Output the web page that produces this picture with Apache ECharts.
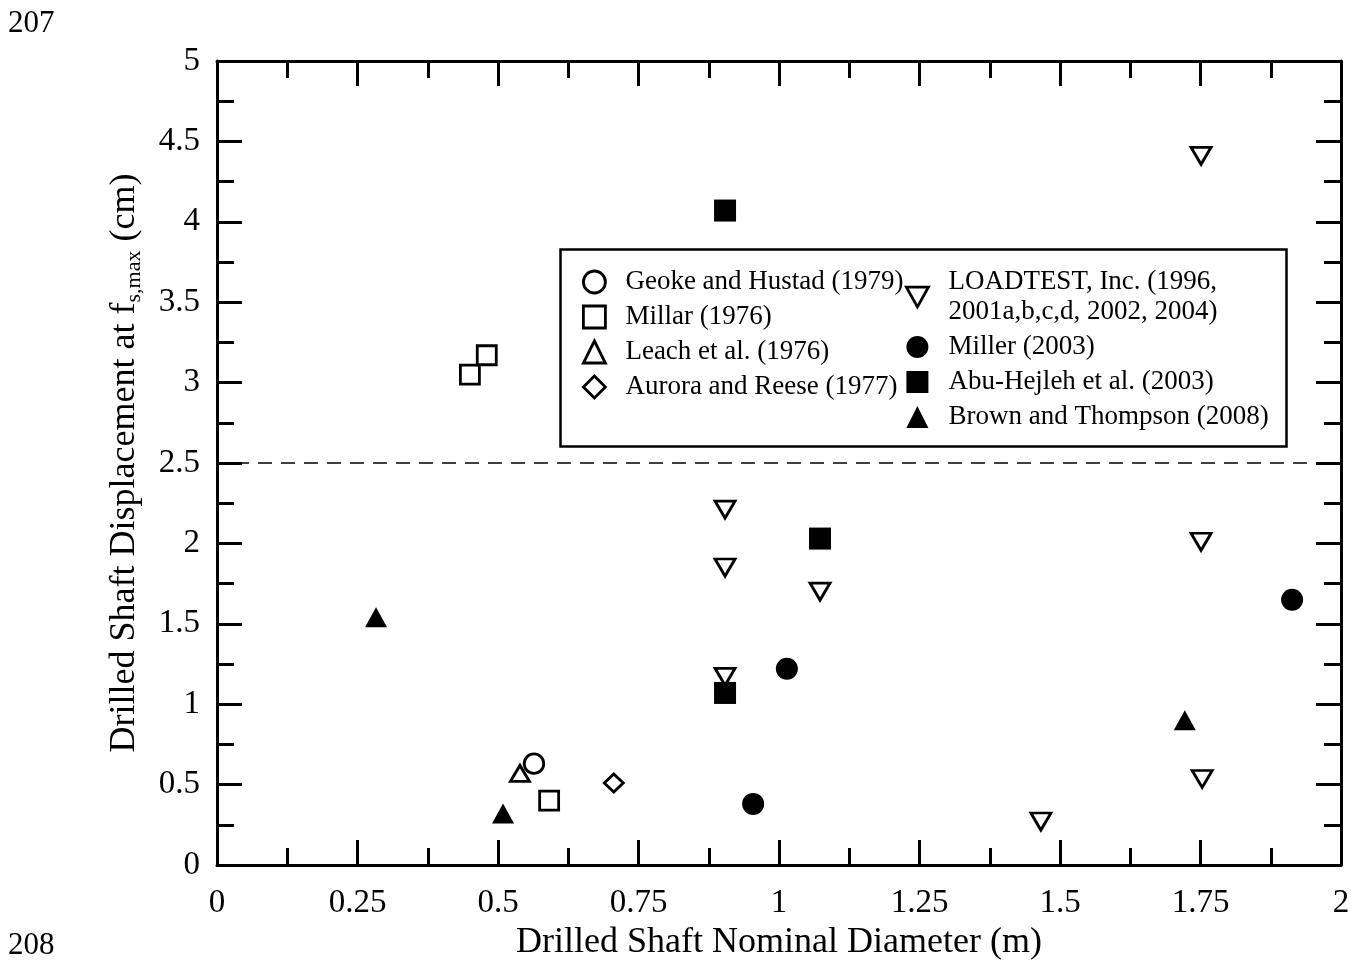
<!DOCTYPE html>
<html lang="en">
<head>
    <meta charset="UTF-8" />
    <title>Drilled shaft displacement</title>
    <style>
        body { margin: 0; padding: 0; background: #fff; }
        .chart { width: 1364px; height: 960px; }
    </style>
</head>
<body>
<div class="chart"></div>
<script src="https://cdn.jsdelivr.net/npm/echarts@6/dist/echarts.min.js"></script>
<script>
    // data: [diameter (m), displacement (cm)]
    const geoke = [[0.564, 0.63]];
    const millar = [[0.450, 3.05], [0.480, 3.17], [0.591, 0.40]];
    const leach = [[0.539, 0.57]];
    const aurora = [[0.706, 0.51]];
    const loadtest = [[1.751, 4.41], [0.904, 2.21], [0.904, 1.85], [1.073, 1.70],
        [0.904, 1.17], [1.751, 2.01], [1.753, 0.535], [1.466, 0.27]];
    const miller = [[0.954, 0.38], [1.014, 1.22], [1.913, 1.65]];
    const abuHejleh = [[0.904, 4.07], [1.073, 2.03], [0.904, 1.07]];
    const brown = [[0.283, 1.54], [0.509, 0.32], [1.722, 0.90]];
    const limitLine = [[0, 2.5], [2, 2.5]];

    const xTicks = { min: 0, max: 2, interval: 0.25 };
    const yTicks = { min: 0, max: 5, interval: 0.5 };

    const FONT = 'Liberation Serif';
    const invTri = 'path://M0,0 L20,0 L10,18 Z';

    const hollow = { color: '#fff', borderColor: '#000', borderWidth: 2.8, opacity: 1 };
    const solid = { color: '#000', opacity: 1 };

    function axisCommon(extra) {
        return Object.assign({
            axisLine: { show: true, onZero: false, lineStyle: { color: '#000', width: 3 } },
            axisTick: { show: true, inside: true, length: 25, lineStyle: { color: '#000', width: 3 } },
            minorTick: { show: true, splitNumber: 2, length: 17, lineStyle: { color: '#000', width: 3 } },
            splitLine: { show: false },
            axisLabel: { show: false }
        }, extra);
    }

    const legendText = { fontFamily: FONT, fontSize: 27, lineHeight: 30, color: '#000', padding: [0, 0, 0, 15] };

    const container = document.querySelector('.chart');
    const chart = echarts.init(container);

    const option = {
        animation: false,
        backgroundColor: '#fff',
        textStyle: { fontFamily: FONT, color: '#000' },
        grid: { left: 217, right: 23, top: 61, bottom: 95, outerBoundsMode: 'none', containLabel: false },
        xAxis: [
            axisCommon(Object.assign({
                type: 'value', position: 'bottom',
                name: 'Drilled Shaft Nominal Diameter (m)',
                nameLocation: 'middle', nameGap: 60,
                nameTextStyle: { fontFamily: FONT, fontSize: 36, color: '#000' },
                axisLabel: { show: true, margin: 22, fontFamily: FONT, fontSize: 33, color: '#000' }
            }, xTicks)),
            axisCommon(Object.assign({ type: 'value', position: 'top' }, xTicks))
        ],
        yAxis: [
            axisCommon(Object.assign({
                type: 'value', position: 'left',
                name: '{m|Drilled Shaft Displacement at f}{s|s,max}{m| (cm)}',
                nameLocation: 'middle', nameGap: 72, nameRotate: 90,
                nameTextStyle: {
                    rich: {
                        m: { fontFamily: FONT, fontSize: 36, lineHeight: 40, color: '#000' },
                        s: { fontFamily: FONT, fontSize: 22, lineHeight: 22, verticalAlign: 'bottom', color: '#000' }
                    }
                },
                axisLabel: { show: true, margin: 17, fontFamily: FONT, fontSize: 33, color: '#000' }
            }, yTicks)),
            axisCommon(Object.assign({ type: 'value', position: 'right' }, yTicks))
        ],
        legend: [
            {
                left: 582, top: 267, orient: 'vertical', padding: 0,
                itemWidth: 22, itemHeight: 22, itemGap: 5,
                selectedMode: false,
                itemStyle: { borderWidth: 2.8 },
                textStyle: legendText,
                data: ['Geoke and Hustad (1979)', 'Millar (1976)', 'Leach et al. (1976)', 'Aurora and Reese (1977)']
            },
            {
                left: 905, top: 267, orient: 'vertical', padding: 0,
                itemWidth: 22, itemHeight: 22, itemGap: 5,
                selectedMode: false,
                itemStyle: { borderWidth: 2.8 },
                textStyle: legendText,
                data: ['LOADTEST, Inc. (1996,\n2001a,b,c,d, 2002, 2004)', 'Miller (2003)',
                    'Abu-Hejleh et al. (2003)', 'Brown and Thompson (2008)']
            }
        ],
        graphic: [
            {
                type: 'rect', left: 558, top: 247, z: 1,
                shape: { width: 726, height: 197 },
                style: { fill: 'none', stroke: '#000', lineWidth: 2.5 }
            },
            { type: 'text', left: 8, top: 8, style: { text: '207', font: '31px "Liberation Serif"', fill: '#000' } },
            { type: 'text', left: 8, top: 930, style: { text: '208', font: '31px "Liberation Serif"', fill: '#000' } }
        ],
        series: [
            {
                type: 'line', data: limitLine, symbol: 'none', silent: true,
                lineStyle: { color: '#000', width: 1.5, type: [14, 9], dashOffset: 5 }, z: 1
            },
            { name: 'Geoke and Hustad (1979)', type: 'scatter', data: geoke, symbol: 'circle', symbolSize: 19.5, itemStyle: hollow, z: 4 },
            { name: 'Millar (1976)', type: 'scatter', data: millar, symbol: 'rect', symbolSize: 19, itemStyle: hollow, z: 3 },
            { name: 'Leach et al. (1976)', type: 'scatter', data: leach, symbol: 'triangle', symbolSize: [19, 16], itemStyle: hollow, z: 3 },
            { name: 'Aurora and Reese (1977)', type: 'scatter', data: aurora, symbol: 'diamond', symbolSize: [19, 18], itemStyle: hollow, z: 3 },
            { name: 'Miller (2003)', type: 'scatter', data: miller, symbol: 'circle', symbolSize: 22, itemStyle: solid, z: 3 },
            { name: 'Abu-Hejleh et al. (2003)', type: 'scatter', data: abuHejleh, symbol: 'rect', symbolSize: 22, itemStyle: solid, z: 3 },
            { name: 'Brown and Thompson (2008)', type: 'scatter', data: brown, symbol: 'triangle', symbolSize: [22, 20], itemStyle: solid, z: 3 },
            { name: 'LOADTEST, Inc. (1996,\n2001a,b,c,d, 2002, 2004)', type: 'scatter', data: loadtest, symbol: invTri, symbolSize: [20, 17], itemStyle: hollow, z: 4 }
        ]
    };
    chart.setOption(option);
</script>
</body>
</html>
